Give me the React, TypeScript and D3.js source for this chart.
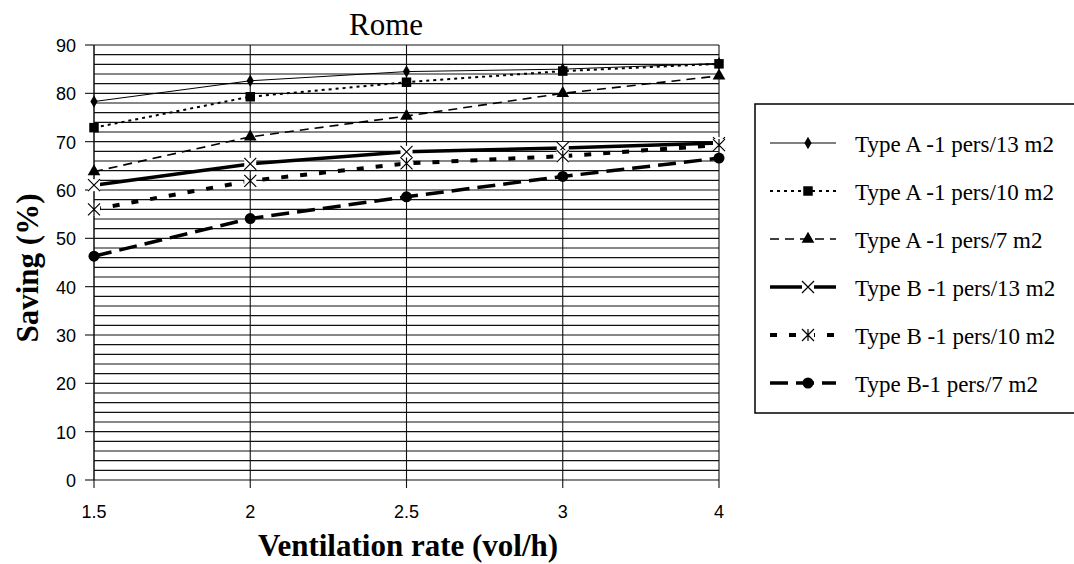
import { useEffect, useRef } from 'react';
import * as d3 from 'd3';

const categories = ['1.5', '2', '2.5', '3', '4'];
const yTicks = [0, 10, 20, 30, 40, 50, 60, 70, 80, 90];

const seriesNames = [
  'Type A -1 pers/13 m2',
  'Type A -1 pers/10 m2',
  'Type A -1 pers/7 m2',
  'Type B -1 pers/13 m2',
  'Type B -1 pers/10 m2',
  'Type B-1 pers/7 m2',
];

const typeA13 = [78.3, 82.6, 84.5, 85.0, 86.2];
const typeA10 = [72.9, 79.3, 82.3, 84.6, 86.1];
const typeA7 = [63.8, 71.0, 75.3, 80.0, 83.6];
const typeB13 = [61.0, 65.4, 67.9, 68.7, 69.7];
const typeB10 = [56.0, 61.9, 65.5, 67.0, 69.3];
const typeB7 = [46.3, 54.1, 58.6, 62.8, 66.6];

const seriesValues = [typeA13, typeA10, typeA7, typeB13, typeB10, typeB7];

// line / marker style per series
const styles = [
  { width: 1, dash: null, marker: 'diamond' },
  { width: 2, dash: '3,4', marker: 'square' },
  { width: 1.6, dash: '9,6', marker: 'triangle' },
  { width: 3.5, dash: null, marker: 'cross' },
  { width: 4, dash: '7,12', marker: 'star' },
  { width: 3.5, dash: '18,8', marker: 'circle' },
];

const W = 1074;
const H = 564;

export default function App() {
  const svgRef = useRef<SVGSVGElement>(null);

  useEffect(() => {
    if (!svgRef.current) return;
    const svg = d3.select(svgRef.current);
    svg.selectAll('*').remove();

    const left = 94, right = 719, top = 45, bottom = 480;

    const x = d3.scalePoint<string>().domain(categories).range([left, right]);
    const y = d3.scaleLinear().domain([0, 90]).range([bottom, top]);

    svg.append('rect').attr('width', W).attr('height', H).attr('fill', '#fff');

    // horizontal grid every 2 units
    const grid = svg.append('g');
    d3.range(0, 91, 2).forEach(v => {
      grid.append('line')
          .attr('x1', left).attr('x2', right)
          .attr('y1', y(v)).attr('y2', y(v))
          .attr('stroke', '#111').attr('stroke-width', 1.2);
    });
    // vertical grid at categories
    categories.forEach(c => {
      grid.append('line')
          .attr('x1', x(c)!).attr('x2', x(c)!)
          .attr('y1', top).attr('y2', bottom)
          .attr('stroke', '#111').attr('stroke-width', c === '1.5' ? 1.5 : 1.1);
    });

    // y axis ticks + labels
    yTicks.forEach(v => {
      svg.append('line')
          .attr('x1', left - 9).attr('x2', left)
          .attr('y1', y(v)).attr('y2', y(v))
          .attr('stroke', '#111').attr('stroke-width', 1.1);
      svg.append('text')
          .attr('x', left - 18).attr('y', y(v) + 1)
          .attr('text-anchor', 'end')
          .attr('dominant-baseline', 'central')
          .attr('font-family', 'Liberation Sans, sans-serif')
          .attr('font-size', 18)
          .text(v);
    });

    // x axis ticks + labels
    categories.forEach(c => {
      svg.append('line')
          .attr('x1', x(c)!).attr('x2', x(c)!)
          .attr('y1', bottom).attr('y2', bottom + 8)
          .attr('stroke', '#111').attr('stroke-width', 1.1);
      svg.append('text')
          .attr('x', x(c)!).attr('y', 518)
          .attr('text-anchor', 'middle')
          .attr('font-family', 'Liberation Sans, sans-serif')
          .attr('font-size', 18)
          .text(c);
    });

    const drawMarker = (g: d3.Selection<SVGGElement, unknown, null, undefined>, kind: string, cx: number, cy: number) => {
      if (kind === 'cross' || kind === 'star') {
        const s = 6;
        const m = g.append('g').attr('transform', `translate(${cx},${cy})`);
        m.append('rect').attr('x', -s).attr('y', -s).attr('width', 2 * s).attr('height', 2 * s).attr('fill', '#fff');
        m.append('path')
            .attr('d', `M${-s},${-s}L${s},${s}M${-s},${s}L${s},${-s}` + (kind === 'star' ? `M0,${-s}L0,${s}` : ''))
            .attr('stroke', '#000').attr('stroke-width', 1.2).attr('fill', 'none');
        return;
      }
      const sym = kind === 'diamond' ? d3.symbolDiamond
          : kind === 'square' ? d3.symbolSquare
          : kind === 'triangle' ? d3.symbolTriangle
          : d3.symbolCircle;
      const size = kind === 'diamond' ? 45 : kind === 'square' ? 90 : kind === 'triangle' ? 70 : 95;
      g.append('path')
          .attr('transform', `translate(${cx},${cy})`)
          .attr('d', d3.symbol().type(sym).size(size)()!)
          .attr('fill', '#000');
    };

    const line = d3.line<number>()
        .x((_, i) => x(categories[i])!)
        .y(d => y(d));

    const plot = svg.append('g');
    seriesValues.forEach((vals, si) => {
      const st = styles[si];
      plot.append('path')
          .attr('d', line(vals)!)
          .attr('fill', 'none')
          .attr('stroke', '#000')
          .attr('stroke-width', st.width)
          .attr('stroke-dasharray', st.dash ?? null);
    });
    seriesValues.forEach((vals, si) => {
      vals.forEach((v, i) => drawMarker(plot, styles[si].marker, x(categories[i])!, y(v)));
    });

    // title
    svg.append('text')
        .attr('x', 386).attr('y', 35)
        .attr('text-anchor', 'middle')
        .attr('font-family', 'Liberation Serif, serif')
        .attr('font-size', 31)
        .text('Rome');

    svg.append('text')
        .attr('x', 408).attr('y', 556)
        .attr('text-anchor', 'middle')
        .attr('font-family', 'Liberation Serif, serif')
        .attr('font-weight', 'bold')
        .attr('font-size', 31)
        .text('Ventilation rate (vol/h)');

    svg.append('text')
        .attr('transform', 'translate(38,268) rotate(-90)')
        .attr('text-anchor', 'middle')
        .attr('font-family', 'Liberation Serif, serif')
        .attr('font-weight', 'bold')
        .attr('font-size', 31)
        .text('Saving (%)');

    // legend
    const lg = svg.append('g');
    lg.append('rect')
        .attr('x', 755).attr('y', 104)
        .attr('width', 340).attr('height', 309)
        .attr('fill', '#fff')
        .attr('stroke', '#000').attr('stroke-width', 1.5);
    seriesNames.forEach((name, i) => {
      const ry = 143 + i * 48;
      const st = styles[i];
      lg.append('line')
          .attr('x1', 770).attr('x2', 836)
          .attr('y1', ry).attr('y2', ry)
          .attr('stroke', '#000')
          .attr('stroke-width', st.width)
          .attr('stroke-dasharray', st.dash ?? null);
      drawMarker(lg, st.marker, 808, ry);
      lg.append('text')
          .attr('x', 855).attr('y', ry + 1)
          .attr('dominant-baseline', 'central')
          .attr('font-family', 'Liberation Serif, serif')
          .attr('font-size', 23)
          .text(name);
    });
  }, []);

  return (
    <svg
      ref={svgRef}
      width={W}
      height={H}
      style={{ position: 'absolute', left: 0, top: 0, display: 'block' }}
    />
  );
}
